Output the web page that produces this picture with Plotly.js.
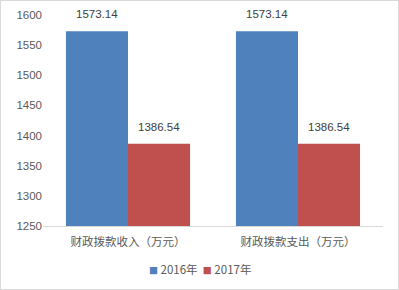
<!DOCTYPE html>
<html><head><meta charset="utf-8">
<script src="https://cdn.plot.ly/plotly-3.0.1.min.js"></script>
<style>
html,body{margin:0;padding:0;background:#fff;}
#c{width:399px;height:290px;box-sizing:border-box;border:1px solid #d9d9d9;}
</style></head>
<body><div id="c"></div>
<script>
var categories = ["财政拨款收入（万元）", "财政拨款支出（万元）"];
var series2016 = [1573.14, 1573.14];
var series2017 = [1386.54, 1386.54];
var seriesNames = ["2016年", "2017年"];
var colors = ["#4f81bd", "#c0504d"];
var yTicks = [1250, 1300, 1350, 1400, 1450, 1500, 1550, 1600];

var fontFam = "'Liberation Sans', 'Noto Sans CJK SC', sans-serif";
var W = 397, H = 288, M = {l:42, r:15, t:14, b:63}, bargap = 0.27;
var plotW = W - M.l - M.r;
var barPx = plotW / categories.length * (1 - bargap) / 2;

var traces = [
  {type:'bar', name:seriesNames[0], x:categories, y:series2016, marker:{color:colors[0]}},
  {type:'bar', name:seriesNames[1], x:categories, y:series2017, marker:{color:colors[1]}}
];
var annotations = [];
[series2016, series2017].forEach(function(s, si){
  s.forEach(function(v, i){
    annotations.push({x:categories[i], y:v, xref:'x', yref:'y', text:v.toFixed(2), showarrow:false,
      xanchor:'center', yanchor:'bottom', yshift:9, xshift:(si === 0 ? -1 : 1) * barPx / 2,
      font:{size:11.5, color:'#404040', family:fontFam}});
  });
});
annotations.push({xref:'paper', yref:'paper', x:(199 - M.l) / plotW, y:-0.205, xanchor:'center', yanchor:'middle', showarrow:false,
  text:"<span style='color:" + colors[0] + ";font-size:9px'>■</span> " + seriesNames[0] + "  <span style='color:" + colors[1] + ";font-size:9px'>■</span> " + seriesNames[1],
  font:{size:11.5, color:'#595959', family:"'Noto Sans CJK SC', sans-serif"}});

var layout = {
  width:W, height:H,
  margin:M,
  paper_bgcolor:'#fff', plot_bgcolor:'#fff',
  barmode:'group', bargap:bargap, bargroupgap:0,
  font:{family:fontFam, color:'#595959', size:11},
  xaxis:{showline:true, linecolor:'#d9d9d9', linewidth:1, ticks:'', ticklabelstandoff:5, tickfont:{size:11.5, color:'#595959', family:"'Noto Sans CJK SC', sans-serif"}},
  yaxis:{range:[1250,1600], tickvals:yTicks, showgrid:false, zeroline:false, showline:false, ticks:'', ticklen:0, tickfont:{size:11.5, color:'#595959'}},
  showlegend:false,
  annotations:annotations
};
Plotly.newPlot('c', traces, layout, {displayModeBar:false, staticPlot:true});
</script></body></html>
